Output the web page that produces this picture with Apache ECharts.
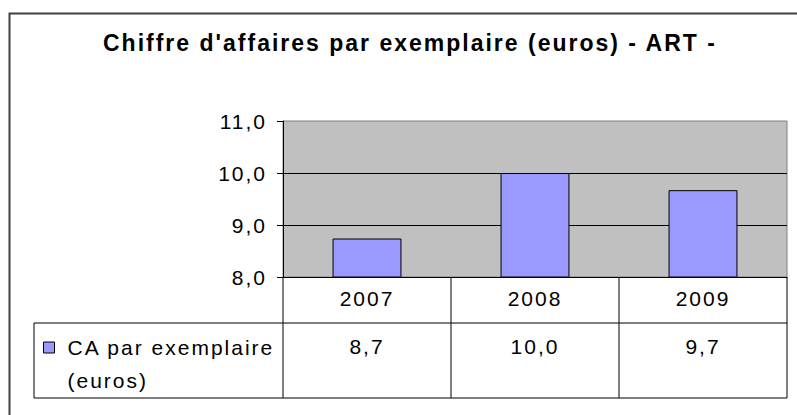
<!DOCTYPE html>
<html>
<head>
<meta charset="utf-8">
<script src="https://cdn.jsdelivr.net/npm/echarts@6/dist/echarts.min.js"></script>
<style>
  html, body { margin: 0; padding: 0; background: #fff; }
  #chart { width: 797px; height: 415px; }
  #chart text { letter-spacing: 2px; }
</style>
</head>
<body>
<div id="chart"></div>
<script>
// ---- data ----
const titleText = "Chiffre d'affaires par exemplaire (euros) - ART -";
const seriesName = 'CA par exemplaire (euros)';
const legendLines = ['CA par exemplaire', '(euros)'];
const categories = ['2007', '2008', '2009'];
const values = [8.74, 10.0, 9.67];
const yMin = 8, yMax = 11, yInterval = 1;

const FONT = "'Liberation Sans', Arial, sans-serif";
const fmt = v => v.toFixed(1).replace('.', ',');

const HEADER_H = 46;   // table header row height
const TABLE_H = 121;   // total table height
const LEGEND_LEFT = 34;

const chart = echarts.init(document.getElementById('chart'), null, { renderer: 'svg' });

const option = {
  backgroundColor: '#ffffff',
  animation: false,
  title: {
    text: titleText,
    left: 103,
    top: 31,
    padding: 0,
    textStyle: { fontFamily: FONT, fontSize: 23, fontWeight: 'bold', color: '#000' }
  },
  legend: {
    data: [seriesName],
    left: 43,
    top: 298,
    padding: 0,
    icon: 'rect',
    itemWidth: 11,
    itemHeight: 11,
    itemStyle: { color: '#9999FF', borderColor: '#000', borderWidth: 1 },
    // leading blank line keeps the icon aligned with the first text line
    formatter: () => '\n' + legendLines.join('\n'),
    textStyle: { fontFamily: FONT, fontSize: 21, color: '#000', lineHeight: 33, padding: [0, 0, 0, 8] },
    selectedMode: false
  },
  grid: {
    left: 283, top: 121, width: 504, height: 156,
    show: true, backgroundColor: '#C0C0C0', borderColor: '#808080', borderWidth: 1
  },
  xAxis: {
    type: 'category',
    data: categories,
    axisLine: { show: true, lineStyle: { color: '#000', width: 1 } },
    axisTick: { show: false },
    splitLine: { show: false },
    axisLabel: { fontFamily: FONT, fontSize: 21, color: '#000', margin: 11 }
  },
  yAxis: {
    type: 'value',
    min: yMin, max: yMax, interval: yInterval,
    axisLine: { show: true, lineStyle: { color: '#000', width: 1 } },
    axisTick: { show: true, length: 6, lineStyle: { color: '#000' } },
    splitLine: { show: true, showMinLine: false, showMaxLine: false, lineStyle: { color: '#000', width: 1 } },
    axisLabel: { fontFamily: FONT, fontSize: 21, color: '#000', margin: 16, formatter: v => fmt(v) }
  },
  series: [
    {
      name: seriesName,
      type: 'bar',
      data: values,
      barCategoryGap: '59%',
      itemStyle: { color: '#9999FF', borderColor: '#000', borderWidth: 1 }
    },
    {
      name: 'table',
      type: 'custom',
      silent: true,
      clip: false,
      z: 5,
      data: values.map((v, i) => [i, v]),
      renderItem: function (params, api) {
        const cs = params.coordSys;
        const i = api.value(0);
        const c = api.coord([i, yMin]);
        const bw = api.size([1, 0])[0];
        const x0 = c[0] - bw / 2, x1 = c[0] + bw / 2;
        const top = cs.y + cs.height;
        const mid = top + HEADER_H;
        const bot = top + TABLE_H;
        const ls = { stroke: '#000', lineWidth: 1 };
        const kids = [
          { type: 'line', shape: { x1: x0, y1: top, x2: x0, y2: bot }, style: ls },
          { type: 'line', shape: { x1: x0, y1: mid, x2: x1, y2: mid }, style: ls },
          { type: 'line', shape: { x1: x0, y1: bot, x2: x1, y2: bot }, style: ls },
          { type: 'text', style: { text: fmt(api.value(1)), x: c[0], y: mid + 23, align: 'center', verticalAlign: 'middle', font: '21px ' + FONT, fill: '#000' } }
        ];
        if (i === categories.length - 1) {
          kids.push({ type: 'line', shape: { x1: x1, y1: top, x2: x1, y2: bot }, style: ls });
        }
        if (i === 0) {
          kids.push({ type: 'line', shape: { x1: LEGEND_LEFT, y1: mid, x2: x0, y2: mid }, style: ls });
          kids.push({ type: 'line', shape: { x1: LEGEND_LEFT, y1: bot, x2: x0, y2: bot }, style: ls });
          kids.push({ type: 'line', shape: { x1: LEGEND_LEFT, y1: mid, x2: LEGEND_LEFT, y2: bot }, style: ls });
        }
        return { type: 'group', children: kids };
      }
    }
  ],
  graphic: [
    {
      type: 'rect',
      silent: true,
      shape: { x: 9.5, y: 13.5, width: 820, height: 420 },
      style: { fill: 'none', stroke: '#404040', lineWidth: 2 }
    }
  ]
};

chart.setOption(option);
</script>
</body>
</html>
